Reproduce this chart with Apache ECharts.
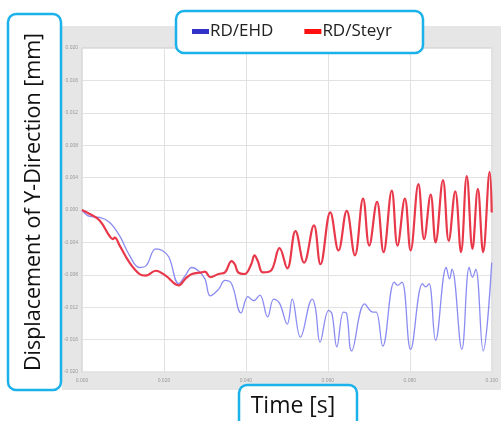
<!DOCTYPE html>
<html>
<head>
<meta charset="utf-8">
<script src="https://cdn.jsdelivr.net/npm/echarts@6/dist/echarts.min.js"></script>
<style>
  html, body { margin: 0; padding: 0; background: #fff; }
  #chart { width: 501px; height: 421px; }
</style>
</head>
<body>
<div id="chart"></div>
<script>
// time [s] and displacement [mm]
const steyrT = [0, 0.0019, 0.0043, 0.0067, 0.0075, 0.0080, 0.0092, 0.0116, 0.0140, 0.0156, 0.0180, 0.0204, 0.0236, 0.0252, 0.0268, 0.0292, 0.0300, 0.0313, 0.0333, 0.0349, 0.0365, 0.0373, 0.0381, 0.0397, 0.0413, 0.0421, 0.0429, 0.0441, 0.0461, 0.0482, 0.0501, 0.0521, 0.0542, 0.0566, 0.0582, 0.0606, 0.0626, 0.0646, 0.0666, 0.0686, 0.0701, 0.0720, 0.0736, 0.0756, 0.0770, 0.0788, 0.0802, 0.0821, 0.0835, 0.0851, 0.0863, 0.0881, 0.0895, 0.0911, 0.0925, 0.0939, 0.0953, 0.0966, 0.0979, 0.0995, 0.1];
const steyrY = [0, -0.0005, -0.0013, -0.0032, -0.0036, -0.0034, -0.0044, -0.0065, -0.0079, -0.0081, -0.0075, -0.0081, -0.0093, -0.0085, -0.0079, -0.0077, -0.0076, -0.0083, -0.0079, -0.0077, -0.0063, -0.0067, -0.0077, -0.0079, -0.0067, -0.0056, -0.0063, -0.0077, -0.0075, -0.0047, -0.0072, -0.0026, -0.0065, -0.0019, -0.0067, -0.0003, -0.0050, -0.0001, -0.0056, 0.0014, -0.0044, 0.0010, -0.0052, 0.0024, -0.0044, 0.0014, -0.0050, 0.0032, -0.0036, 0.0019, -0.0040, 0.0037, -0.0038, 0.0023, -0.0052, 0.0042, -0.0048, 0.0026, -0.0052, 0.0047, -0.0003];

const ehdT = [0, 0.0019, 0.0043, 0.0067, 0.0092, 0.0116, 0.0140, 0.0156, 0.0180, 0.0196, 0.0212, 0.0236, 0.0252, 0.0268, 0.0284, 0.0300, 0.0313, 0.0333, 0.0349, 0.0365, 0.0388, 0.0405, 0.0419, 0.0434, 0.0453, 0.0468, 0.0482, 0.0501, 0.0513, 0.0533, 0.0562, 0.0570, 0.0581, 0.0602, 0.0610, 0.0622, 0.0638, 0.0646, 0.0658, 0.0690, 0.0710, 0.0718, 0.0734, 0.0762, 0.0770, 0.0781, 0.0802, 0.0831, 0.0839, 0.0847, 0.0863, 0.0889, 0.0897, 0.0903, 0.0927, 0.0945, 0.0953, 0.0961, 0.0979, 0.1];
const ehdY = [0, -0.0008, -0.0009, -0.0015, -0.0032, -0.0056, -0.0071, -0.0069, -0.0048, -0.0050, -0.0058, -0.0091, -0.0081, -0.0071, -0.0075, -0.0085, -0.0106, -0.0098, -0.0087, -0.0091, -0.0127, -0.0107, -0.0112, -0.0105, -0.0132, -0.0110, -0.0115, -0.0141, -0.0110, -0.0157, -0.0110, -0.0122, -0.0163, -0.0124, -0.0128, -0.0169, -0.0126, -0.0128, -0.0174, -0.0116, -0.0126, -0.0126, -0.0168, -0.0089, -0.0093, -0.0089, -0.0172, -0.0091, -0.0095, -0.0091, -0.0161, -0.0071, -0.0085, -0.0073, -0.0172, -0.0071, -0.0083, -0.0073, -0.0174, -0.0065];

const seriesNames = ["RD/EHD", "RD/Steyr"];
const xTicks = [0, 0.02, 0.04, 0.06, 0.08, 0.1];
const yTicks = [-0.02, -0.016, -0.012, -0.008, -0.004, 0, 0.004, 0.008, 0.012, 0.016, 0.02];

const zip = (xs, ys) => xs.map((x, i) => [x, ys[i]]);
const cyan = "#1bb1ea";

const chart = echarts.init(document.getElementById("chart"));

chart.setOption({
  animation: false,
  backgroundColor: "#fff",
  grid: {
    left: 82, top: 48, right: 4, bottom: 49,
    show: true,
    backgroundColor: "#fff",
    borderColor: "#cfcfcf",
    borderWidth: 1
  },
  legend: {
    left: 192, top: 23,
    z: 10,
    padding: 0,
    itemWidth: 17, itemHeight: 5,
    itemGap: 31,
    icon: "rect",
    textStyle: { fontFamily: "Open Sans", fontSize: 17, color: "#222", padding: [0, 0, 0, -4] },
    data: [
      { name: seriesNames[0], itemStyle: { color: "#3232c8" } },
      { name: seriesNames[1], itemStyle: { color: "#ff1010" } }
    ]
  },
  xAxis: {
    type: "value",
    min: xTicks[0], max: xTicks[xTicks.length - 1], interval: 0.02,
    name: "X Axis", nameLocation: "middle", nameGap: 11,
    nameTextStyle: { fontSize: 5, color: "#999" },
    axisLine: { show: false },
    axisTick: { show: false },
    axisLabel: { fontSize: 5, color: "#999", margin: 6, formatter: v => v.toFixed(3) },
    splitLine: { lineStyle: { color: "#e2e2e2", width: 1 } }
  },
  yAxis: {
    type: "value",
    min: yTicks[0], max: yTicks[yTicks.length - 1], interval: 0.004,
    name: "Y Axis", nameLocation: "middle", nameGap: 15,
    nameTextStyle: { fontSize: 5, color: "#999" },
    axisLine: { show: false },
    axisTick: { show: false },
    axisLabel: { fontSize: 5, color: "#999", margin: 4, formatter: v => v.toFixed(3) },
    splitLine: { lineStyle: { color: "#e2e2e2", width: 1 } }
  },
  series: [
    {
      name: seriesNames[0],
      type: "line",
      data: zip(ehdT, ehdY),
      smooth: 0.4,
      showSymbol: false,
      itemStyle: { color: "#3232c8" },
      lineStyle: { color: "#8b8cf2", width: 1.3 },
      z: 2
    },
    {
      name: seriesNames[1],
      type: "line",
      data: zip(steyrT, steyrY),
      smooth: 0.4,
      showSymbol: false,
      itemStyle: { color: "#ff1010" },
      lineStyle: { color: "#e8384a", width: 2.2 },
      z: 3
    }
  ],
  graphic: [
    // grey panel behind plot
    { type: "rect", z: -1, shape: { x: 62, y: 26, width: 439, height: 364 }, style: { fill: "#e6e6e6" } },
    // callout boxes
    { type: "rect", z: 5, shape: { x: 176, y: 11, width: 247, height: 42, r: 8 }, style: { fill: "#fff", stroke: cyan, lineWidth: 2.5 } },
    { type: "rect", z: 5, shape: { x: 8, y: 14, width: 53, height: 376, r: 8 }, style: { fill: "#fff", stroke: cyan, lineWidth: 2.5 } },
    { type: "rect", z: 5, shape: { x: 239, y: 385, width: 118, height: 50, r: 8 }, style: { fill: "#fff", stroke: cyan, lineWidth: 2.5 } },
    {
      type: "text", z: 6, x: 34, y: 202, rotation: Math.PI / 2,
      style: { text: "Displacement of Y-Direction [mm]", fontFamily: "Open Sans", fontSize: 21.5, fill: "#111", align: "center", verticalAlign: "middle" }
    },
    {
      type: "text", z: 6, x: 293, y: 406,
      style: { text: "Time [s]", fontFamily: "Open Sans", fontSize: 23, fill: "#111", align: "center", verticalAlign: "middle" }
    }
  ]
});
</script>
</body>
</html>
